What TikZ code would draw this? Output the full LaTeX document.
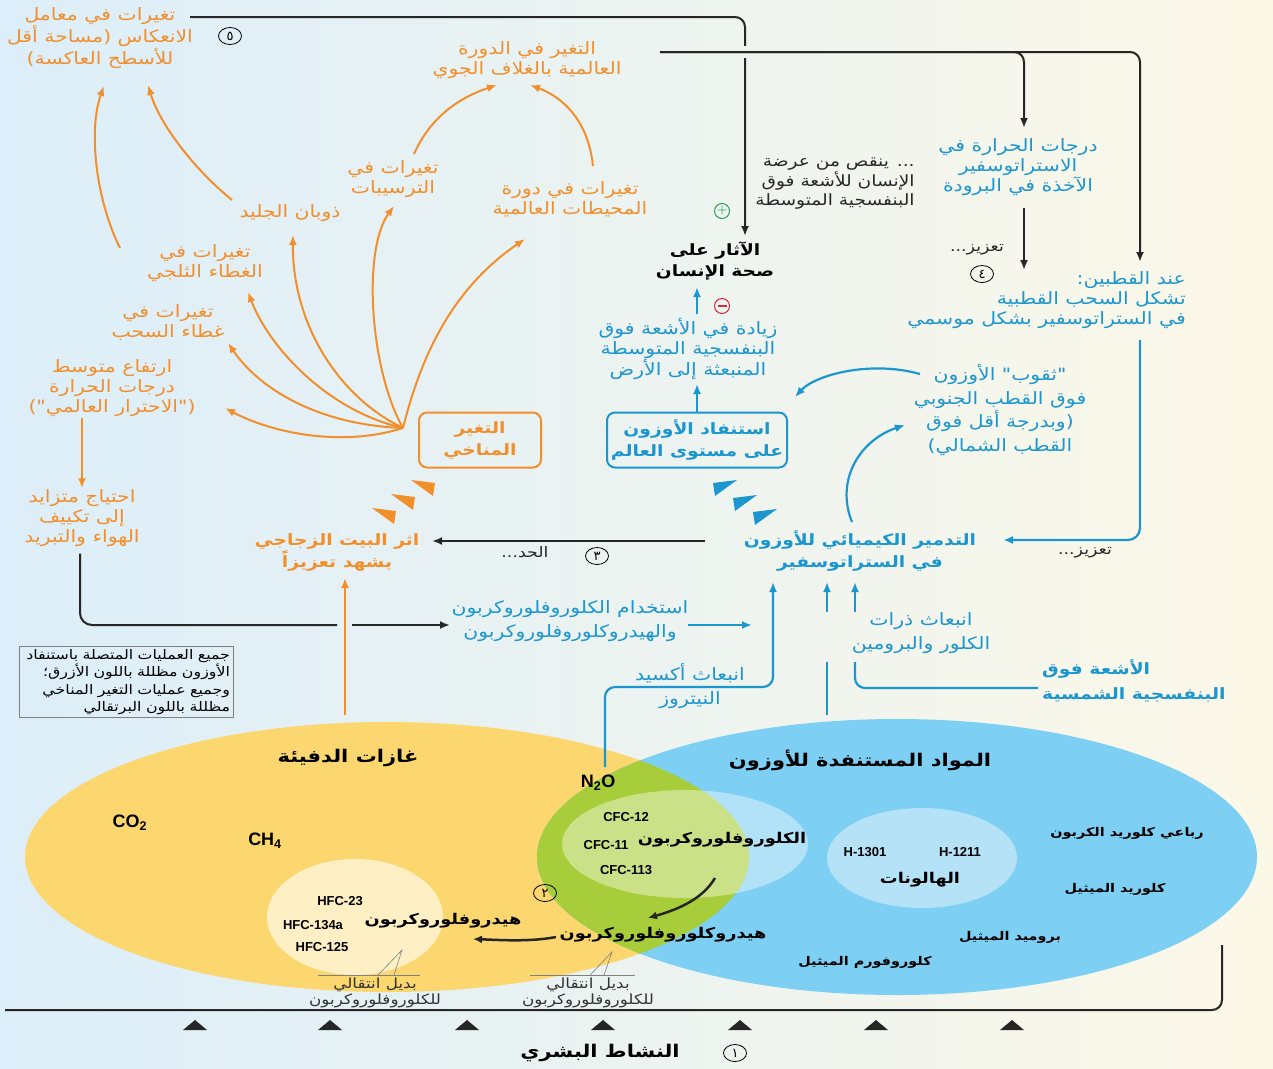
\documentclass[tikz,border=0pt]{standalone}
\usepackage{fontspec}
\newfontfamily\arabicfont[Script=Arabic,FakeStretch=1.2]{DejaVu Sans}
\newfontfamily\arabicplain[Script=Arabic]{DejaVu Sans}
\newfontfamily\latinsans{Liberation Sans}
\TeXXeTstate=1
\usetikzlibrary{arrows.meta,calc,shapes.geometric}
\definecolor{orng}{RGB}{242,143,45}
\definecolor{blu}{RGB}{28,150,207}
\definecolor{ylw}{RGB}{252,214,110}
\definecolor{ozb}{RGB}{126,207,244}
\definecolor{grn}{RGB}{167,206,58}
\definecolor{halo}{RGB}{182,226,248}
\definecolor{hfcc}{RGB}{254,240,196}
\definecolor{bgl}{RGB}{220,238,249}
\definecolor{bgr}{RGB}{252,248,232}
\definecolor{bgm}{RGB}{238,244,240}
\definecolor{plusg}{RGB}{40,160,90}
\definecolor{minr}{RGB}{220,40,50}
\newcommand\AR[1]{\beginR #1\endR}
\tikzset{
 ar/.style={font=\arabicfont\fontsize{17}{20}\selectfont, align=center, inner sep=1pt},
 arw/.style={font=\arabicfont\fontsize{17}{23.5}\selectfont},
 arb/.style={font=\arabicfont\bfseries\fontsize{15.6}{22}\selectfont, align=center, inner sep=1pt},
 ot/.style={ar,text=orng}, ob/.style={arb,text=orng},
 bt/.style={ar,text=blu}, bb/.style={arb,text=blu},
 kt/.style={ar,text=black}, kb/.style={arb,text=black},
 ks/.style={font=\arabicfont\bfseries\fontsize{12}{16}\selectfont, inner sep=1pt},
 kbm/.style={font=\arabicfont\bfseries\fontsize{14.8}{18}\selectfont, inner sep=1pt},
 ttl/.style={font=\arabicfont\bfseries\fontsize{17.5}{20}\selectfont, inner sep=1pt},
 sm/.style={font=\arabicfont\fontsize{14.5}{16}\selectfont, align=center, inner sep=1pt, text=black!85},
 alt/.style={font=\arabicfont\fontsize{14}{16}\selectfont, align=center, inner sep=1pt, text=black!80},
 oarr/.style={draw=orng, line width=2pt, -{Latex[length=10pt,width=8pt]}},
 barr/.style={draw=blu, line width=2.2pt, -{Latex[length=10pt,width=8pt]}},
 bln/.style={draw=blu, line width=2.2pt},
 karr/.style={draw=black!85, line width=2pt, -{Latex[length=10pt,width=8pt]}},
 kln/.style={draw=black!85, line width=2pt},
 num/.style={ellipse, draw=black, line width=0.8pt, inner sep=0pt, minimum width=23pt, minimum height=17pt, font=\arabicplain\fontsize{13}{13}\selectfont},
 lat/.style={font=\latinsans\bfseries\fontsize{18}{18}\selectfont, inner sep=1pt},
 latsm/.style={font=\latinsans\bfseries\fontsize{13}{13}\selectfont, inner sep=1pt},
 callout/.style={draw=black!50, line width=0.6pt},
}
\begin{document}
\begin{tikzpicture}[x=1pt,y=-1pt]
\useasboundingbox (0,0) rectangle (1273,1068);
\fill[left color=bgl, right color=bgr] (0,0) rectangle (1273,1068);

% ---------- ellipses
\fill[ylw] (387,857) ellipse [x radius=362pt, y radius=135pt];
\fill[ozb] (897,857) ellipse [x radius=360pt, y radius=138pt];
\begin{scope}
\clip (387,857) ellipse [x radius=362pt, y radius=135pt];
\fill[grn] (897,857) ellipse [x radius=360pt, y radius=138pt];
\end{scope}
\fill[white, opacity=0.4] (685,844) ellipse [x radius=123pt, y radius=54pt];
\fill[halo] (922,858) ellipse [x radius=95pt, y radius=50pt];
\fill[hfcc] (355,917) ellipse [x radius=88pt, y radius=58pt];

% ---------- ellipse texts
\node[ttl] (ghg) at (348,758) {\AR{غازات الدفيئة}};
\node[ttl] (ods) at (860,760) {\AR{المواد المستنفدة للأوزون}};
\node[lat] (co2) at (130,823) {CO\textsubscript{2}};
\node[lat] (ch4) at (265,841) {CH\textsubscript{4}};
\node[lat] (n2o) at (598,783) {N\textsubscript{2}O};
\node[latsm] (c12) at (626,817) {CFC-12};
\node[latsm] (c11) at (606,845) {CFC-11};
\node[latsm] (c113) at (626,870) {CFC-113};
\node[kbm] (cfc) at (722,840) {\AR{الكلوروفلوروكربون}};
\node[latsm] (h1301) at (865,852) {H-1301};
\node[latsm] (h1211) at (960,852) {H-1211};
\node[kbm] (halons) at (920,880) {\AR{الهالونات}};
\node[ks] (ccl4) at (1127,833) {\AR{رباعي كلوريد الكربون}};
\node[ks] (mcl) at (1115,889) {\AR{كلوريد الميثيل}};
\node[ks] (mbr) at (1010,937) {\AR{بروميد الميثيل}};
\node[ks] (mcf) at (865,962) {\AR{كلوروفورم الميثيل}};
\node[kbm] (hcfc) at (663,935) {\AR{هيدروكلوروفلوروكربون}};
\node[latsm] (h23) at (340,901) {HFC-23};
\node[latsm] (h134) at (313,925) {HFC-134a};
\node[latsm] (h125) at (322,947) {HFC-125};
\node[kbm] (hfc) at (443,921) {\AR{هيدروفلوروكربون}};
\node[num] (n2) at (545,893) {٢};

\coordinate (cfcarr) at (715,878);
\coordinate (hcfctip) at (648,918);
\draw[kln, line width=2.5pt, -{Latex[length=9pt,width=8pt]}] (cfcarr) .. controls (702,900) and (676,910) .. (hcfctip);
\coordinate (hcfcw) at (556,937);
\coordinate (hfctip) at (473,939);
\draw[kln, line width=2.5pt, -{Latex[length=9pt,width=8pt]}] (hcfcw) .. controls (530,942) and (500,940) .. (hfctip);

% callouts
\draw[callout] (318,975) -- (420,975);
\draw[callout] (378,975) -- (402,950) -- (394,975);
\draw[callout] (530,975) -- (635,975);
\draw[callout] (590,975) -- (612,952) -- (604,975);
\node[alt] (alt1) at (375,993) {\AR{بديل انتقالي}\\\AR{للكلوروفلوروكربون}};
\node[alt] (alt2) at (588,993) {\AR{بديل انتقالي}\\\AR{للكلوروفلوروكربون}};

% ---------- human activity
\coordinate (hl) at (5,1010);
\coordinate (hr) at (1222,945);
\draw[kln, rounded corners=10pt] (hl) -| (hr);
\foreach \x in {195,330,467,603,740,876,1012}
  \fill[black!85] (\x-12,1030) -- (\x+12,1030) -- (\x,1020) -- cycle;
\node[ttl] (human) at (600,1053) {\AR{النشاط البشري}};
\node[num] (n1) at (735,1053) {١};

% ---------- legend
\node[draw=black!50, line width=0.8pt, text width=208pt, align=right, inner sep=3pt,
      font=\arabicfont\fontsize{13.2}{17.3}\selectfont] (legend) at (126,682)
 {\AR{جميع العمليات المتصلة باستنفاد}\\\AR{الأوزون مظللة باللون الأزرق؛}\\\AR{وجميع عمليات التغير المناخي}\\\AR{مظللة باللون البرتقالي}};

% ---------- orange (climate)
\node[ot] (refl) at (100,38) {\AR{تغيرات في معامل}\\\AR{الانعكاس (مساحة أقل}\\\AR{للأسطح العاكسة)}};
\node[num] (n5) at (230,36) {٥};
\node[ot] (atm) at (527,60) {\AR{التغير في الدورة}\\\AR{العالمية بالغلاف الجوي}};
\node[ot] (precip) at (393,179) {\AR{تغيرات في}\\\AR{الترسيبات}};
\node[ot] (ocean) at (570,199) {\AR{تغيرات في دورة}\\\AR{المحيطات العالمية}};
\node[ot] (ice) at (290,213) {\AR{ذوبان الجليد}};
\node[ot] (snow) at (205,263) {\AR{تغيرات في}\\\AR{الغطاء الثلجي}};
\node[ot] (cloud) at (168,322) {\AR{تغيرات في}\\\AR{غطاء السحب}};
\node[ot] (warm) at (112,388) {\AR{ارتفاع متوسط}\\\AR{درجات الحرارة}\\\AR{("الاحترار العالمي")}};
\node[ot] (need) at (82,518) {\AR{احتياج متزايد}\\\AR{إلى تكييف}\\\AR{الهواء والتبريد}};
\node[ob, draw=orng, line width=2pt, rounded corners=8pt, minimum width=122pt, minimum height=55pt] (climate) at (480,440) {\AR{التغير}\\\AR{المناخي}};
\node[ob] (green) at (337,552) {\AR{اثر البيت الزجاجي}\\\AR{يشهد تعزيزاً}};

\coordinate (fan) at ($(climate.west)+(-15,-12)$);
\coordinate (twarm) at (225,408);
\coordinate (tcloud) at (228,343);
\coordinate (tsnow) at (248,292);
\coordinate (tice) at (293,235);
\coordinate (tprec) at (394,206);
\coordinate (tocean) at (525,239);
\draw[oarr] (fan) .. controls (340,448) and (270,432) .. (twarm);
\draw[oarr] (fan) .. controls (320,425) and (260,390) .. (tcloud);
\draw[oarr] (fan) .. controls (325,410) and (268,345) .. (tsnow);
\draw[oarr] (fan) .. controls (335,395) and (292,320) .. (tice);
\draw[oarr] (fan) .. controls (370,370) and (362,250) .. (tprec);
\draw[oarr] (fan) .. controls (420,360) and (450,290) .. (tocean);
\coordinate (precs) at (414,154);
\coordinate (atml) at (497,85);
\coordinate (oceans) at (593,166);
\coordinate (atmr) at (530,85);
\draw[oarr] (precs) .. controls (430,118) and (458,98) .. (atml);
\draw[oarr] (oceans) .. controls (588,118) and (560,96) .. (atmr);
\coordinate (snows) at (120,248);
\coordinate (refl1) at (104,86);
\coordinate (ices) at (232,200);
\coordinate (refl2) at (148,85);
\draw[oarr] (snows) .. controls (96,200) and (88,130) .. (refl1);
\draw[oarr] (ices) .. controls (195,170) and (160,125) .. (refl2);
\draw[oarr] (warm.south -| need.north) -- (need.north);

\foreach \x/\y in {424/488,404/502,385/516}
  \fill[orng] (\x+11,\y-5) -- (\x-13,\y-8) -- (\x+9,\y+8) -- cycle;
\foreach \x/\y in {724/488,744/503,764/517}
  \fill[blu] (\x-11,\y-5) -- (\x+13,\y-8) -- (\x-9,\y+8) -- cycle;

% ---------- blue (ozone)
\node[bt] (temp) at (1018,167) {\AR{درجات الحرارة في}\\\AR{الاستراتوسفير}\\\AR{الآخذة في البرودة}};
\node[bt, align=right, anchor=north east] (polar) at (1187,270) {\AR{عند القطبين:}\\\AR{تشكل السحب القطبية}\\\AR{في الستراتوسفير بشكل موسمي}};
\node[bt, arw] (hole) at (1000,410) {\AR{"ثقوب" الأوزون}\\\AR{فوق القطب الجنوبي}\\\AR{(وبدرجة أقل فوق}\\\AR{القطب الشمالي)}};
\node[bb] (destr) at (860,551) {\AR{التدمير الكيميائي للأوزون}\\\AR{في الستراتوسفير}};
\node[bb, draw=blu, line width=2pt, rounded corners=8pt, minimum width=180pt, minimum height=55pt] (depl) at (697,440) {\AR{استنفاد الأوزون}\\\AR{على مستوى العالم}};
\node[bt] (uvinc) at (688,349) {\AR{زيادة في الأشعة فوق}\\\AR{البنفسجية المتوسطة}\\\AR{المنبعثة إلى الأرض}};
\node[kb, font=\arabicfont\bfseries\fontsize{15.5}{21}\selectfont] (health) at (715,261) {\AR{الآثار على}\\\AR{صحة الإنسان}};
\node[kt, font=\arabicfont\fontsize{15.5}{19.5}\selectfont, align=right, text=black!85] (expo) at (835,184) {\AR{... ينقص من عرضة}\\\AR{الإنسان للأشعة فوق}\\\AR{البنفسجية المتوسطة}};
\node[bt, arw] (cfcuse) at (570,621) {\AR{استخدام الكلوروفلوروكربون}\\\AR{والهيدروكلوروفلوروكربون}};
\node[bt, arw] (n2oem) at (690,686) {\AR{انبعاث أكسيد}\\\AR{النيتروز}};
\node[bt, arw] (clbr) at (921,633) {\AR{انبعاث ذرات}\\\AR{الكلور والبرومين}};
\node[bb, align=left, anchor=west, font=\arabicfont\bfseries\fontsize{15.6}{25}\selectfont] (solar) at (1041,681) {\AR{الأشعة فوق}\\\AR{البنفسجية الشمسية}};

\node[circle, draw=plusg, text=plusg, line width=1pt, minimum size=15pt, inner sep=0pt, font=\bfseries\large] (plus) at (722,211) {+};
\coordinate (minus) at (722,306);
\draw[minr, line width=1pt] (minus) circle [radius=7.5pt];
\draw[minr, line width=2.2pt] ($(minus)+(-4.5,0)$) -- ($(minus)+(4.5,0)$);

% labels
\node[sm] (lbl4) at (977,250) {\AR{تعزيز...}};
\node[num] (n4) at (982,274) {٤};
\node[sm] (lblr) at (1085,553) {\AR{تعزيز...}};
\node[sm] (lbl3) at (525,552) {\AR{الحد...}};
\node[num] (n3) at (597,556) {٣};

% ---------- black connectors
\coordinate (s5) at (190,17);
\coordinate (hth) at (745,236);
\draw[karr, rounded corners=10pt] (s5) -| (hth);
\fill[bgm] (740,46) rectangle (750,58);
\coordinate (s2) at (660,52);
\coordinate (tmpt) at (1024,128);
\coordinate (polt) at (1140,262);
\draw[karr, rounded corners=10pt] (s2) -| (tmpt);
\draw[karr, rounded corners=10pt] (s2) -| (polt);
\coordinate (tmpb) at (1024,208);
\draw[karr] (tmpb) -- (tmpb |- polar.north);
\coordinate (destl) at (705,541);
\coordinate (greenr) at (432,541);
\draw[karr] (destl) -- (greenr);
\coordinate (needcorner) at (337,625);
\draw[kln, rounded corners=12pt] ($(need.south)+(-2,6)$) |- (needcorner);
\coordinate (usein) at (352,625);
\draw[karr] (usein) -- (450,625);
\coordinate (ghup) at (345,715);
\draw[oarr] (ghup) -- ($(green.south)+(8,6)$);

% ---------- blue connectors
\coordinate (polb) at (1140,340);
\coordinate (destr_r) at (1003,540);
\draw[barr, rounded corners=12pt] (polb) |- (destr_r);
\coordinate (holel) at (920,374);
\coordinate (deplr) at (795,397);
\draw[barr] (holel) .. controls (870,360) and (815,375) .. (deplr);
\coordinate (destt) at (852,522);
\coordinate (holeb) at (905,425);
\draw[barr] (destt) .. controls (835,480) and (860,440) .. (holeb);
\coordinate (uvb) at (697,384);
\coordinate (uvt) at (697,314);
\coordinate (hthb) at (697,287);
\draw[barr] (depl.north) -- (uvb);
\draw[barr] (uvt) -- (hthb);
\coordinate (n2ot) at (605,767);
\coordinate (d1) at (773,582);
\draw[barr, rounded corners=10pt] (n2ot) |- (773,687) -- (d1);
\coordinate (d2) at (827,582);
\coordinate (d3) at (855,582);
\draw[barr] (827,612) -- (d2);
\draw[bln] (827,715) -- (827,662);
\draw[barr] (855,612) -- (d3);
\coordinate (solw) at (1038,688);
\draw[bln, rounded corners=10pt] (solw) -| (855,662);
\coordinate (usel) at (688,625);
\coordinate (user) at (752,625);
\draw[barr] (usel) -- (user);
\end{tikzpicture}
\end{document}
